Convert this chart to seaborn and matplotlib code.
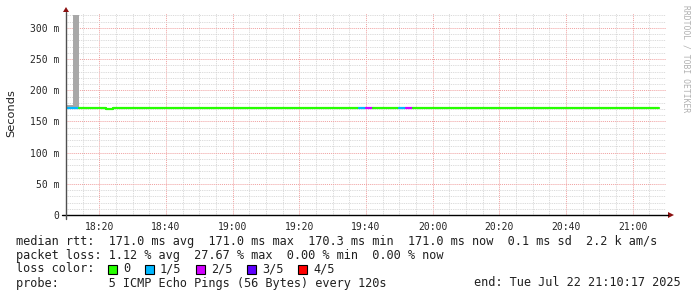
import matplotlib
matplotlib.use("Agg")
import matplotlib.pyplot as plt
import matplotlib.dates as mdates
from matplotlib.ticker import MultipleLocator, FixedLocator
from matplotlib.patches import Rectangle, Polygon
import seaborn as sns
import pandas as pd
import numpy as np
from datetime import datetime, timedelta

# ---------------- data ----------------
start_time = datetime(2025, 7, 22, 18, 10, 0)
step_minutes = 2
n_steps = 89
# median rtt (ms) per 2-minute step
median_ms = [171.0] * 6 + [170.3] + [171.0] * 82
# loss count (out of 5 pings) per step
loss_count = [1, 1] + [0] * 42 + [1, 2] + [0] * 4 + [1, 2] + [0] * 37
# top of the smoke (ms) per step
smoke_top_ms = [176.0, 321.0] + [171.0] * 87

loss_labels = ["0", "1/5", "2/5", "3/5", "4/5"]
loss_colors = ["#26ff00", "#00b8ff", "#d200ff", "#5e00ff", "#ff0000"]

y_ticks = [0, 50, 100, 150, 200, 250, 300]
y_tick_labels = ["0", "50 m", "100 m", "150 m", "200 m", "250 m", "300 m"]

legend_lines = [
    "median rtt:  171.0 ms avg  171.0 ms max  170.3 ms min  171.0 ms now  0.1 ms sd  2.2 k am/s",
    "packet loss: 1.12 % avg  27.67 % max  0.00 % min  0.00 % now",
]
probe_text = "probe:       5 ICMP Echo Pings (56 Bytes) every 120s"
end_text = "end: Tue Jul 22 21:10:17 2025"

# ---------------- figure ----------------
sns.set_style("white")
plt.rcParams["font.family"] = ["DejaVu Sans"]
W, H = 697, 297
fig = plt.figure(figsize=(W / 100, H / 100), dpi=100)
fig.patch.set_facecolor("white")
ax = fig.add_axes([66 / W, 1 - 215 / H, 600 / W, 202 / H])
ax.set_facecolor("white")

times = [start_time + timedelta(minutes=step_minutes * k) for k in range(n_steps)]
df = pd.DataFrame({"time": times, "median": median_ms, "loss": loss_count,
                   "smoke": smoke_top_ms})
step_days = step_minutes / (24 * 60)

# smoke (gray) from median up to the slowest ping
tnum = mdates.date2num(df["time"])
ax.bar(tnum, df["smoke"] - df["median"], bottom=df["median"], width=step_days,
       align="edge", color="#a8a8a8", linewidth=0, zorder=2)

# median line coloured by loss, drawn as runs of equal loss
run_id = (df["loss"] != df["loss"].shift()).cumsum()
for _, run in df.groupby(run_id):
    xs = list(run["time"]) + [run["time"].iloc[-1] + timedelta(minutes=step_minutes)]
    ys = list(run["median"]) + [run["median"].iloc[-1]]
    sns.lineplot(x=xs, y=ys, drawstyle="steps-post", color=loss_colors[run["loss"].iloc[0]],
                 lw=1.6, ax=ax, zorder=4, sort=False, estimator=None)

# axes limits / grid
ax.set_xlim(start_time, start_time + timedelta(hours=3))
ax.set_ylim(0, 324)
ax.xaxis.set_major_locator(mdates.MinuteLocator(byminute=[0, 20, 40]))
ax.xaxis.set_minor_locator(mdates.MinuteLocator(byminute=range(0, 60, 5)))
ax.xaxis.set_major_formatter(mdates.DateFormatter("%H:%M"))
ax.yaxis.set_major_locator(FixedLocator(y_ticks))
ax.set_yticklabels(y_tick_labels)
ax.yaxis.set_minor_locator(MultipleLocator(10))
ax.grid(which="minor", color="#d4d4d4", linestyle=(0, (1, 1)), linewidth=0.65, zorder=0)
ax.grid(which="major", color="#f0a0a0", linestyle=(0, (1, 1)), linewidth=0.7, zorder=1)
ax.set_axisbelow(True)
ax.tick_params(which="both", length=0)
ax.tick_params(axis="x", pad=5, labelsize=7)
ax.tick_params(axis="y", pad=5, labelsize=7)
for lab in ax.get_xticklabels() + ax.get_yticklabels():
    lab.set_fontfamily("DejaVu Sans Mono")
for s in ax.spines.values():
    s.set_visible(False)
ax.set_xlabel("")
ax.set_ylabel("")

# axis lines with arrows (figure pixel coords)
def px(x, y):
    return (x / W, 1 - y / H)

fig.add_artist(plt.Line2D([px(62, 0)[0], px(668, 0)[0]], [px(0, 215)[1]] * 2,
                          color="black", lw=1.0))
fig.add_artist(plt.Line2D([px(66, 0)[0]] * 2, [px(0, 219)[1], px(0, 12)[1]],
                          color="#505050", lw=1.0))
fig.add_artist(Polygon([px(668, 212), px(668, 218), px(674, 215)], closed=True,
                       transform=fig.transFigure, color="#8b1010", lw=0))
fig.add_artist(Polygon([px(63, 12), px(69, 12), px(66, 7)], closed=True,
                       transform=fig.transFigure, color="#8b1010", lw=0))

# labels
fig.text(*px(11, 113), "Seconds", rotation=90, ha="center", va="center", fontsize=8.2,
         color="#202020")
fig.text(*px(686, 5), "RRDTOOL / TOBI OETIKER", rotation=270, ha="center", va="top",
         fontsize=5.8, color="#b0b0b0", fontfamily="DejaVu Sans Mono")

# legend text
mono = dict(fontfamily="DejaVu Sans Mono", fontsize=8.55, color="#202020", va="center",
            ha="left")
fig.text(*px(16, 241), legend_lines[0], **mono)
fig.text(*px(16, 255), legend_lines[1], **mono)
fig.text(*px(16, 269), "loss color:", **mono)
sq_x = [108, 145, 196, 247, 298]
for x0, lab, col in zip(sq_x, loss_labels, loss_colors):
    fig.add_artist(Rectangle(px(x0, 274), 9 / W, 9 / H, transform=fig.transFigure,
                             facecolor=col, edgecolor="black", lw=0.8))
    fig.text(*px(x0 + 15, 269), lab, **mono)
fig.text(*px(16, 283), probe_text, **mono)
mono_r = dict(mono)
mono_r["ha"] = "right"
fig.text(*px(681, 283), end_text, **mono_r)

fig.savefig("out.png", dpi=100, facecolor="white")
